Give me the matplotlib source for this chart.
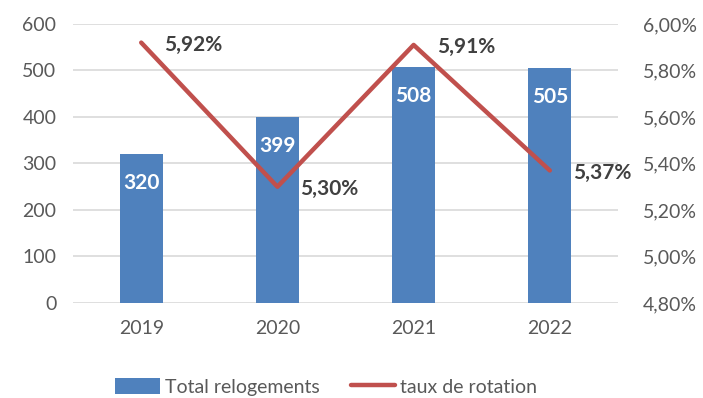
import matplotlib.pyplot as plt
import numpy as np

plt.rcParams['font.family'] = ['Lato', 'DejaVu Sans']

years = ['2019', '2020', '2021', '2022']
relogements = [320, 399, 508, 505]
taux = [5.92, 5.30, 5.91, 5.37]

blue = '#4F81BD'
red = '#C0504D'
grey = '#595959'


def pct(v):
  return '{:.2f}%'.format(v).replace('.', ',')


fig = plt.figure(figsize=(7.03, 3.98), dpi=100)
ax = fig.add_axes([0.104, 0.2387, 0.775, 0.701])
x = np.arange(len(years))

ax.bar(x, relogements, width=0.315, color=blue, zorder=2, label='Total relogements')
for xi, v in zip(x, relogements):
  ax.annotate(str(v), (xi, v), xytext=(0, -29), textcoords='offset pixels',
              ha='center', va='center', color='white', fontsize=15, fontweight='bold', zorder=3)

ax.set_ylim(0, 600)
ax.set_yticks(range(0, 601, 100))
ax.set_xlim(-0.5, len(years) - 0.5)
ax.set_xticks(x)
ax.set_xticklabels(years)
ax.grid(axis='y', color='#D9D9D9', lw=1.2, zorder=0)
for s in ax.spines.values():
  s.set_visible(False)
ax.tick_params(length=0, colors=grey, labelsize=14)
ax.tick_params(axis='x', pad=12)
ax.tick_params(axis='y', pad=12)

ax2 = ax.twinx()
ax2.plot(x, taux, color=red, lw=3.2, solid_capstyle='round', zorder=4, label='taux de rotation')
for xi, v in zip(x, taux):
  ax2.annotate(pct(v), (xi, v), xytext=(23, -2), textcoords='offset pixels',
               ha='left', va='center', color='#404040', fontsize=15, fontweight='bold')
ax2.set_ylim(4.8, 6.0)
ax2.set_yticks(np.arange(4.8, 6.01, 0.2))
ax2.set_yticklabels([pct(v) for v in np.arange(4.8, 6.01, 0.2)])
for s in ax2.spines.values():
  s.set_visible(False)
ax2.tick_params(length=0, colors=grey, labelsize=14, pad=18)

h1, l1 = ax.get_legend_handles_labels()
h2, l2 = ax2.get_legend_handles_labels()
fig.legend(h1 + h2, l1 + l2, loc='center', bbox_to_anchor=(0.464, 0.028), ncol=2,
           frameon=False, fontsize=14, labelcolor=grey, handlelength=2.3,
           handleheight=0.9, handletextpad=0.25, columnspacing=1.6)

fig.savefig('out.png', dpi=100)
